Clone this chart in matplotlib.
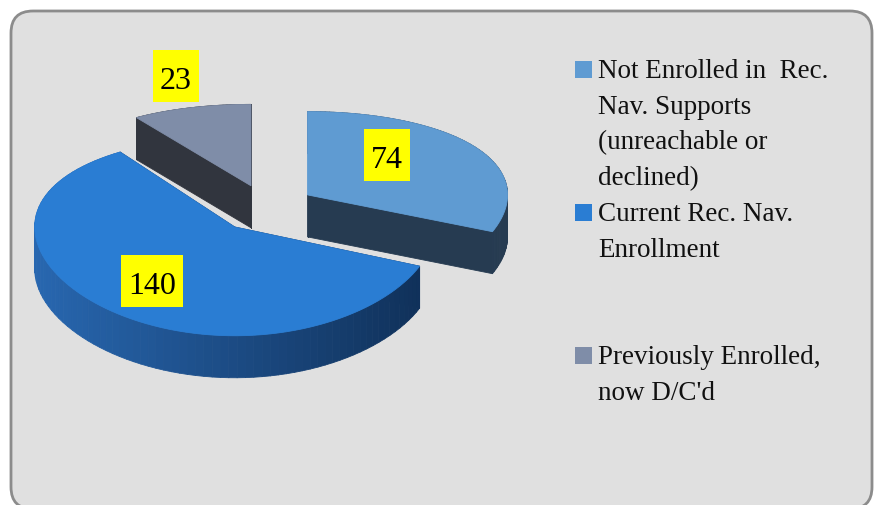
# -*- coding: utf-8 -*-
"""
3D exploded pie chart - Rec. Nav. enrollment
"""

import matplotlib
matplotlib.use('Agg')
import matplotlib.pyplot as plt
import numpy as np
from matplotlib.patches import FancyBboxPatch, Rectangle
from matplotlib.collections import PolyCollection
from matplotlib.colors import to_rgb

plt.rcParams['font.family'] = ['Liberation Serif', 'DejaVu Serif']

# data
labels = [
    "Not Enrolled in  Rec.\nNav. Supports\n(unreachable or\ndeclined)",
    "Current Rec. Nav.\nEnrollment",
    "Previously Enrolled,\nnow D/C'd",
]
values = [74, 140, 23]
top_colors = ['#5F9BD2', '#2A7DD3', '#7F8DA8']
side_light = ['#2C4460', '#2867B0', '#383C46']
side_dark = ['#263B51', '#0F2F57', '#31353E']

# layout, in pixels
W, H = 874, 506
cx, cy = 266, 209
rx, ry = 200, 95.5
persp = 0.10
explode = 0.25
depth = 42
label_r = [0.6, 0.66, 1.46]
label_dtheta = [-15, 0, 2.5]


def to_screen(X, Y):
    X = np.asarray(X, float)
    Y = np.asarray(Y, float)
    return cx + rx * X, cy - ry * Y * (1 - persp * Y)


def mix(c1, c2, t):
    a, b = np.array(to_rgb(c1)), np.array(to_rgb(c2))
    return tuple(a + (b - a) * t)


fig = plt.figure(figsize=(W / 100, H / 100), dpi=100)
ax = fig.add_axes([0, 0, 1, 1])
ax.set_xlim(0, W)
ax.set_ylim(H, 0)
ax.axis('off')

# 背景框
frame = FancyBboxPatch((11, 12), 861, 498, boxstyle='round,pad=0,rounding_size=22',
                       fc='#E0E0E0', ec='#8C8C8C', lw=2, zorder=0)
ax.add_patch(frame)

total = sum(values)
bounds = np.concatenate([[0], np.cumsum(values)]) / total * 360
mids = (bounds[:-1] + bounds[1:]) / 2

# back to front
order = sorted(range(len(values)), key=lambda i: -np.cos(np.radians(mids[i])))

for z, i in enumerate(order):
    m = np.radians(mids[i])
    ox, oy = explode * np.sin(m), explode * np.cos(m)
    th = np.radians(np.linspace(bounds[i], bounds[i + 1], 90))
    X = np.concatenate([[ox], ox + np.sin(th)])
    Y = np.concatenate([[oy], oy + np.cos(th)])
    sx, sy = to_screen(X, Y)
    n = len(sx)

    faces = []
    for k in range(n):
        j = (k + 1) % n
        quad = [(sx[k], sy[k]), (sx[j], sy[j]), (sx[j], sy[j] + depth), (sx[k], sy[k] + depth)]
        if k == 0 or j == 0:
            col = to_rgb(side_dark[i])
        else:
            a = (th[k - 1] + th[j - 1]) / 2
            col = mix(side_light[i], side_dark[i], (np.sin(a) + 1) / 2)
        faces.append(((Y[k] + Y[j]) / 2, quad, col))
    faces.sort(key=lambda f: -f[0])
    pc = PolyCollection([f[1] for f in faces], facecolors=[f[2] for f in faces],
                        edgecolors=[f[2] for f in faces], linewidths=0.6, zorder=2 + 2 * z)
    ax.add_collection(pc)
    ax.fill(sx, sy, color=top_colors[i], lw=0.6, zorder=3 + 2 * z)

# 数据标签（黄色底框）
fig.canvas.draw()
renderer = fig.canvas.get_renderer()
for i in range(len(values)):
    m = np.radians(mids[i])
    ox, oy = explode * np.sin(m), explode * np.cos(m)
    la = np.radians(mids[i] + label_dtheta[i])
    lx, ly = to_screen(ox + label_r[i] * np.sin(la), oy + label_r[i] * np.cos(la))
    t = ax.text(lx, ly + 1, str(values[i]), fontsize=23, ha='center', va='center_baseline',
                zorder=21)
    tw = t.get_window_extent(renderer).width + 14
    ax.add_patch(Rectangle((lx - tw / 2, ly - 26), tw, 52, fc='#FFFF00', ec='none', zorder=20))

# 图例
line0, step = 78, 35.8
entry_line = [0, 4, 8]
for i, lab in enumerate(labels):
    base = line0 + entry_line[i] * step
    ax.add_patch(Rectangle((575, base - 16), 17, 17, fc=top_colors[i], ec='none', zorder=20))
    for li, line in enumerate(lab.split('\n')):
        ax.text(598, base + li * step, line, fontsize=19.5, ha='left', va='baseline',
                color='#111111', zorder=20)

fig.savefig('out.png', dpi=100, facecolor='white')
